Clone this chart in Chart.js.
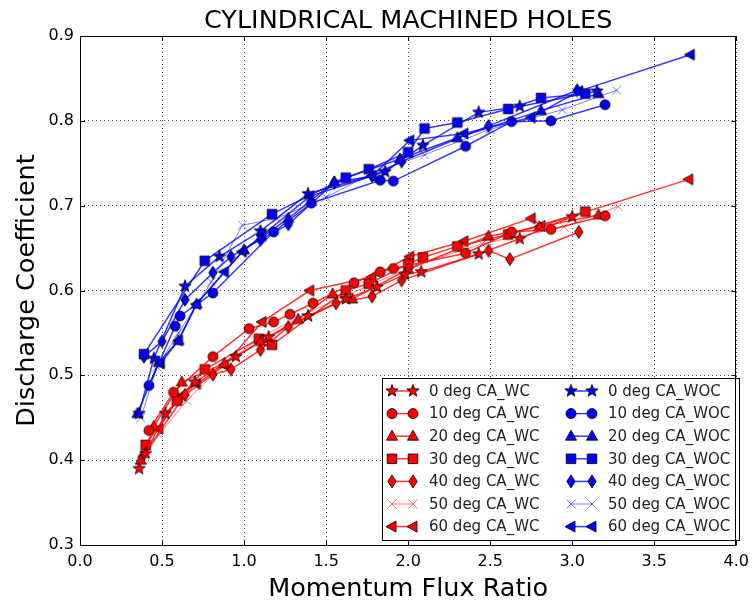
<!DOCTYPE html>
<html lang="en">
<head>
<meta charset="UTF-8" />
<title>Cylindrical Machined Holes</title>
<script src="https://cdn.jsdelivr.net/npm/chart.js"></script>
<style>
  html, body { margin: 0; padding: 0; background: #fff; }
</style>
</head>
<body>
<canvas id="chart" width="756" height="605"></canvas>
<script>
// with coolant (WC) runs
const wc0x = [0.36, 0.40, 0.52, 0.70, 0.95, 1.15, 1.39, 1.62, 1.81, 1.98, 2.08, 2.43, 2.68, 3.00];
const wc0y = [0.390, 0.408, 0.455, 0.492, 0.522, 0.545, 0.570, 0.590, 0.604, 0.619, 0.622, 0.643, 0.661, 0.687];
const wc10x = [0.42, 0.57, 0.81, 1.03, 1.18, 1.28, 1.42, 1.67, 1.83, 1.91, 2.35, 2.63, 2.87, 3.20];
const wc10y = [0.435, 0.480, 0.522, 0.555, 0.563, 0.572, 0.585, 0.609, 0.622, 0.626, 0.644, 0.669, 0.672, 0.688];
const wc20x = [0.37, 0.45, 0.62, 0.88, 1.10, 1.33, 1.54, 1.66, 2.00, 2.49, 2.80, 3.16];
const wc20y = [0.400, 0.440, 0.492, 0.514, 0.540, 0.566, 0.596, 0.590, 0.625, 0.664, 0.675, 0.689];
const wc30x = [0.40, 0.59, 0.76, 1.09, 1.17, 1.62, 1.76, 2.00, 2.09, 2.30, 2.61, 3.08];
const wc30y = [0.418, 0.470, 0.507, 0.543, 0.536, 0.600, 0.608, 0.631, 0.639, 0.652, 0.666, 0.693];
const wc40x = [0.38, 0.64, 0.81, 0.92, 1.10, 1.27, 1.56, 1.78, 1.96, 2.49, 2.62, 3.04];
const wc40y = [0.404, 0.477, 0.501, 0.507, 0.530, 0.557, 0.585, 0.593, 0.612, 0.647, 0.637, 0.669];
const wc50x = [0.38, 0.48, 0.65, 0.85, 1.10, 1.40, 1.75, 2.05, 2.45, 2.95, 3.28];
const wc50y = [0.400, 0.430, 0.470, 0.508, 0.545, 0.575, 0.605, 0.630, 0.655, 0.675, 0.699];
const wc60x = [0.48, 0.60, 0.71, 0.88, 1.11, 1.40, 1.78, 2.01, 2.34, 2.75, 2.81, 3.71];
const wc60y = [0.437, 0.474, 0.490, 0.512, 0.563, 0.600, 0.616, 0.640, 0.658, 0.685, 0.676, 0.731];

// without coolant (WOC) runs
const woc0x = [0.36, 0.45, 0.64, 0.85, 1.10, 1.39, 1.86, 2.09, 2.43, 2.68, 3.15];
const woc0y = [0.455, 0.520, 0.605, 0.640, 0.670, 0.714, 0.740, 0.771, 0.810, 0.817, 0.835];
const woc10x = [0.42, 0.58, 0.61, 0.81, 1.18, 1.41, 1.83, 1.91, 2.35, 2.63, 2.87, 3.20];
const woc10y = [0.488, 0.558, 0.570, 0.597, 0.669, 0.703, 0.730, 0.729, 0.770, 0.799, 0.800, 0.819];
const woc20x = [0.35, 0.48, 0.60, 0.71, 1.00, 1.27, 1.55, 1.95, 2.30, 2.81, 3.16];
const woc20y = [0.455, 0.515, 0.541, 0.584, 0.648, 0.685, 0.728, 0.755, 0.780, 0.812, 0.832];
const woc30x = [0.39, 0.76, 1.17, 1.62, 1.76, 2.00, 2.10, 2.30, 2.61, 2.81, 3.08];
const woc30y = [0.525, 0.635, 0.690, 0.733, 0.743, 0.763, 0.791, 0.798, 0.814, 0.827, 0.832];
const woc40x = [0.39, 0.50, 0.64, 0.81, 0.92, 1.10, 1.27, 1.55, 1.78, 1.96, 2.49, 3.03];
const woc40y = [0.522, 0.540, 0.589, 0.621, 0.640, 0.660, 0.678, 0.727, 0.735, 0.752, 0.794, 0.836];
const woc50x = [0.37, 0.47, 0.60, 0.80, 0.99, 1.20, 1.50, 1.80, 2.10, 2.50, 2.94, 3.27];
const woc50y = [0.450, 0.510, 0.550, 0.610, 0.677, 0.685, 0.710, 0.740, 0.760, 0.790, 0.813, 0.836];
const woc60x = [0.49, 0.60, 0.71, 0.88, 0.99, 1.11, 1.40, 1.78, 2.01, 2.34, 2.75, 3.04, 3.72];
const woc60y = [0.514, 0.541, 0.584, 0.622, 0.646, 0.665, 0.711, 0.735, 0.777, 0.785, 0.804, 0.835, 0.878];

const angles = [0, 10, 20, 30, 40, 50, 60];
const shapes = ["star", "circle", "triUp", "square", "diamond", "cross", "triLeft"];
const xTicks = [0, 0.5, 1.0, 1.5, 2.0, 2.5, 3.0, 3.5, 4.0];
const yTicks = [0.3, 0.4, 0.5, 0.6, 0.7, 0.8, 0.9];
const titleText = "CYLINDRICAL MACHINED HOLES";

const FONT = "'DejaVu Sans', sans-serif";

function drawShape(ctx, shape, cx, cy, fill, edge) {
  ctx.save();
  ctx.lineWidth = 1;
  ctx.strokeStyle = edge;
  ctx.fillStyle = fill;
  ctx.beginPath();
  if (shape === "circle") {
    ctx.arc(cx, cy, 5, 0, Math.PI * 2);
  } else if (shape === "square") {
    ctx.rect(cx - 4.8, cy - 4.8, 9.6, 9.6);
  } else if (shape === "triUp") {
    ctx.moveTo(cx, cy - 6);
    ctx.lineTo(cx + 5.5, cy + 4);
    ctx.lineTo(cx - 5.5, cy + 4);
    ctx.closePath();
  } else if (shape === "triLeft") {
    ctx.moveTo(cx - 6, cy);
    ctx.lineTo(cx + 4, cy - 5.5);
    ctx.lineTo(cx + 4, cy + 5.5);
    ctx.closePath();
  } else if (shape === "diamond") {
    ctx.moveTo(cx, cy - 6.5);
    ctx.lineTo(cx + 4.2, cy);
    ctx.lineTo(cx, cy + 6.5);
    ctx.lineTo(cx - 4.2, cy);
    ctx.closePath();
  } else if (shape === "star") {
    for (let i = 0; i < 10; i++) {
      const r = i % 2 === 0 ? 6.5 : 2.7;
      const a = -Math.PI / 2 + i * Math.PI / 5;
      const px = cx + r * Math.cos(a), py = cy + r * Math.sin(a);
      if (i === 0) ctx.moveTo(px, py); else ctx.lineTo(px, py);
    }
    ctx.closePath();
  } else if (shape === "cross") {
    ctx.moveTo(cx - 4.5, cy - 4.5); ctx.lineTo(cx + 4.5, cy + 4.5);
    ctx.moveTo(cx - 4.5, cy + 4.5); ctx.lineTo(cx + 4.5, cy - 4.5);
    ctx.strokeStyle = fill;
    ctx.stroke();
    ctx.restore();
    return;
  }
  ctx.fill();
  ctx.stroke();
  ctx.restore();
}

function markerImage(shape, fill, edge) {
  const c = document.createElement("canvas");
  c.width = 16; c.height = 16;
  drawShape(c.getContext("2d"), shape, 8, 8, fill, edge);
  return c;
}

function toPoints(xs, ys) {
  return xs.map((x, i) => ({ x: x, y: ys[i] }));
}

const wcX = [wc0x, wc10x, wc20x, wc30x, wc40x, wc50x, wc60x];
const wcY = [wc0y, wc10y, wc20y, wc30y, wc40y, wc50y, wc60y];
const wocX = [woc0x, woc10x, woc20x, woc30x, woc40x, woc50x, woc60x];
const wocY = [woc0y, woc10y, woc20y, woc30y, woc40y, woc50y, woc60y];

function makeSet(label, xs, ys, shape, rgb) {
  const isCross = shape === "cross";
  const fill = isCross ? `rgba(${rgb},0.55)` : `rgb(${rgb})`;
  return {
    label: label,
    data: toPoints(xs, ys),
    showLine: true,
    borderColor: isCross ? `rgba(${rgb},0.5)` : `rgba(${rgb},0.78)`,
    borderWidth: isCross ? 1 : 1.5,
    pointStyle: markerImage(shape, fill, "rgba(0,0,0,0.8)"),
    pointRadius: 5,
    shape: shape,
    markerFill: fill,
    tension: 0
  };
}

const datasets = [];
angles.forEach((a, i) => datasets.push(makeSet(a + " deg CA_WC", wcX[i], wcY[i], shapes[i], "255,0,0")));
angles.forEach((a, i) => datasets.push(makeSet(a + " deg CA_WOC", wocX[i], wocY[i], shapes[i], "0,0,255")));

// title over the plot, black frame, inward ticks on every side, two-column legend
const frameAndLegend = {
  id: "frameAndLegend",
  afterDraw(chart) {
    const { ctx, chartArea: a, scales } = chart;
    ctx.save();

    ctx.fillStyle = "#000";
    ctx.font = "25.5px " + FONT;
    ctx.textAlign = "center";
    ctx.textBaseline = "alphabetic";
    ctx.fillText(titleText, (a.left + a.right) / 2, 28);

    ctx.strokeStyle = "#000";
    ctx.lineWidth = 1;
    ctx.beginPath();
    xTicks.forEach(v => {
      const px = Math.round(scales.x.getPixelForValue(v)) + 0.5;
      ctx.moveTo(px, a.bottom); ctx.lineTo(px, a.bottom - 5);
      ctx.moveTo(px, a.top); ctx.lineTo(px, a.top + 5);
    });
    yTicks.forEach(v => {
      const py = Math.round(scales.y.getPixelForValue(v)) + 0.5;
      ctx.moveTo(a.left, py); ctx.lineTo(a.left + 5, py);
      ctx.moveTo(a.right, py); ctx.lineTo(a.right - 5, py);
    });
    ctx.stroke();

    // legend box
    const bx = 382.5, by = 378.5, bw = 357, bh = 162;
    ctx.fillStyle = "#fff";
    ctx.fillRect(bx, by, bw, bh);
    ctx.strokeRect(bx, by, bw, bh);
    ctx.font = "15px " + FONT;
    ctx.textBaseline = "middle";
    ctx.textAlign = "left";
    chart.data.datasets.forEach((ds, i) => {
      const col = Math.floor(i / 7), row = i % 7;
      const x0 = col === 0 ? 392 : 571;
      const y = 391 + row * 22.6;
      ctx.strokeStyle = ds.borderColor;
      ctx.lineWidth = ds.borderWidth;
      ctx.beginPath();
      ctx.moveTo(x0, y); ctx.lineTo(x0 + 21, y);
      ctx.stroke();
      drawShape(ctx, ds.shape, x0, y, ds.markerFill, "rgba(0,0,0,0.8)");
      drawShape(ctx, ds.shape, x0 + 21, y, ds.markerFill, "rgba(0,0,0,0.8)");
      ctx.fillStyle = "#222";
      ctx.fillText(ds.label, x0 + 37, y + 1);
    });

    // plot frame
    ctx.strokeStyle = "#000";
    ctx.lineWidth = 1;
    ctx.strokeRect(Math.round(a.left) + 0.5, Math.round(a.top) + 0.5,
      Math.round(a.right - a.left) - 1, Math.round(a.bottom - a.top));
    ctx.restore();
  }
};

const gridOpts = { color: "rgba(0,0,0,0.7)", lineWidth: 1, drawTicks: false };

new Chart(document.getElementById("chart"), {
  type: "scatter",
  data: { datasets: datasets },
  options: {
    responsive: false,
    animation: false,
    layout: { padding: { right: 15, left: 0, top: 36, bottom: 0 } },
    plugins: {
      legend: { display: false },
      tooltip: { enabled: false },
      title: { display: false }
    },
    scales: {
      x: {
        type: "linear",
        min: 0, max: 4,
        afterFit: s => { s.height = 60; },
        afterBuildTicks: s => { s.ticks = xTicks.map(v => ({ value: v })); },
        grid: gridOpts,
        border: { display: false, dash: [1, 3] },
        ticks: {
          color: "#000",
          padding: 7,
          font: { family: FONT, size: 16 },
          callback: v => v.toFixed(1)
        },
        title: {
          display: true,
          text: "Momentum Flux Ratio",
          color: "#000",
          font: { family: FONT, size: 25.5 },
          padding: { top: 0, bottom: 0 }
        }
      },
      y: {
        type: "linear",
        min: 0.3, max: 0.9,
        afterFit: s => { s.width = 80; },
        afterBuildTicks: s => { s.ticks = yTicks.map(v => ({ value: v })); },
        grid: gridOpts,
        border: { display: false, dash: [1, 3] },
        ticks: {
          color: "#000",
          padding: 6,
          font: { family: FONT, size: 16 },
          callback: v => v.toFixed(1)
        },
        title: {
          display: true,
          text: "Discharge Coefficient",
          color: "#000",
          font: { family: FONT, size: 25.5 },
          padding: { top: 12, bottom: 0 }
        }
      }
    }
  },
  plugins: [frameAndLegend]
});
</script>
</body>
</html>
